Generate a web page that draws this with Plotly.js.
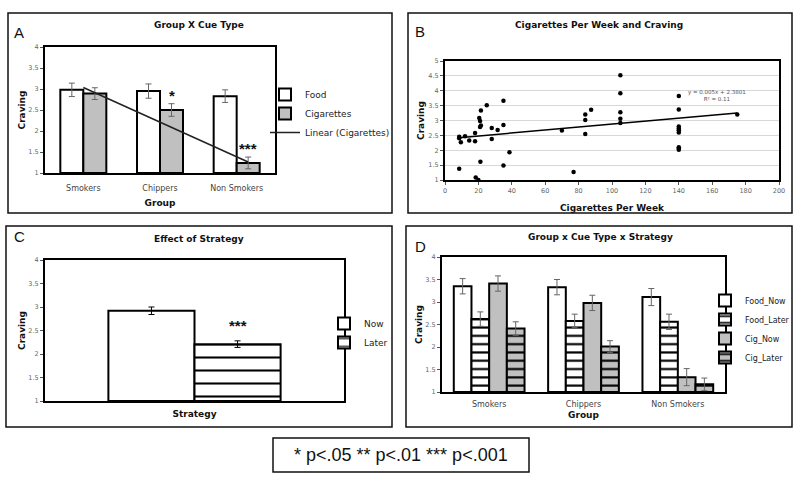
<!DOCTYPE html>
<html>
<head>
<meta charset="utf-8">
<script src="https://cdn.plot.ly/plotly-3.0.1.min.js"></script>
<style>html,body{margin:0;padding:0;background:#fff;}#chart{width:800px;height:481px;}</style>
</head>
<body>
<div id="chart"></div>
<script>
// ---------- DATA ----------
const groups = ['Smokers', 'Chippers', 'Non Smokers'];

// Panel A: Group X Cue Type
const aFood = [2.98, 2.95, 2.83];
const aFoodErr = [0.16, 0.17, 0.15];
const aCig = [2.89, 2.50, 1.24];
const aCigErr = [0.14, 0.15, 0.14];
const aSig = ['', '*', '***'];

// Panel B: Cigarettes Per Week and Craving
const bCigsPerWeek = [8.5, 8.5, 9.5, 12, 8.5, 14.5, 18, 18, 18.4, 20.5, 21, 21.5, 21, 21.5, 25, 21.2, 20,
  28, 28, 31.5, 35, 35, 35, 38.6, 70, 77, 84, 84, 84, 87.5,
  105, 105, 105, 105, 105, 140, 140, 140, 140, 140, 140, 140, 140, 140, 175];
const bCraving = [2.45, 2.40, 2.27, 2.47, 1.38, 2.33, 2.58, 2.30, 1.08, 3.08, 2.78, 2.83, 2.98, 3.34, 3.51, 1.61, 1.0,
  2.75, 2.38, 2.68, 3.66, 2.85, 1.49, 1.93, 2.66, 1.27, 3.20, 3.02, 2.55, 3.36,
  4.52, 3.92, 3.28, 3.06, 2.92, 3.82, 3.37, 2.80, 2.73, 2.67, 2.60, 2.10, 2.06, 2.02, 3.20];
const bSlope = 0.005;
const bIntercept = 2.3801;
const bR2 = 0.11;

// Panel C: Effect of Strategy
const cStrategies = ['Now', 'Later'];
const cCraving = [2.92, 2.21];
const cErr = [0.08, 0.07];
const cSig = ['', '***'];

// Panel D: Group x Cue Type x Strategy
const dSeries = ['Food_Now', 'Food_Later', 'Cig_Now', 'Cig_Later'];
const dFoodNow = [3.35, 3.33, 3.11];
const dFoodNowErr = [0.17, 0.17, 0.19];
const dFoodLater = [2.62, 2.58, 2.56];
const dFoodLaterErr = [0.16, 0.15, 0.17];
const dCigNow = [3.41, 2.98, 1.33];
const dCigNowErr = [0.17, 0.17, 0.19];
const dCigLater = [2.41, 2.01, 1.17];
const dCigLaterErr = [0.15, 0.13, 0.14];

// ---------- HELPERS ----------
function linfit(xs, ys) {
  const n = xs.length;
  const mx = xs.reduce((a, b) => a + b, 0) / n;
  const my = ys.reduce((a, b) => a + b, 0) / n;
  let sxy = 0, sxx = 0;
  for (let i = 0; i < n; i++) { sxy += (xs[i] - mx) * (ys[i] - my); sxx += (xs[i] - mx) ** 2; }
  const m = sxy / sxx;
  return { m: m, b: my - m * mx };
}
const W = 800, H = 481;
const px = v => v / W;
const py = v => 1 - v / H;

const GRAY = '#c0c0c0';
const TICKFONT = { family: 'DejaVu Sans', size: 6.5, color: '#666' };
const CATFONT = { family: 'DejaVu Sans', size: 8, color: '#444' };
const BOLD9 = { family: 'DejaVu Sans', size: 9, color: '#111', weight: 'bold' };
const BARLINE = { color: '#000', width: 2 };
const errStyle = (arr, c) => ({ type: 'data', array: arr, visible: true, color: c, thickness: 1, width: 3 });

const catIdx = groups.map((_, i) => i);
const traces = [];

// ---------- Panel A ----------
const aW = 0.3;
traces.push({ type: 'bar', name: 'Food', x: catIdx, y: aFood, width: aW, offset: -aW, base: 1,
  marker: { color: '#fff', line: BARLINE }, error_y: errStyle(aFoodErr, '#666'),
  xaxis: 'x', yaxis: 'y', legend: 'legend' });
traces.push({ type: 'bar', name: 'Cigarettes', x: catIdx, y: aCig, width: aW, offset: 0, base: 1,
  marker: { color: GRAY, line: BARLINE }, error_y: errStyle(aCigErr, '#666'),
  xaxis: 'x', yaxis: 'y', legend: 'legend' });
const fitA = linfit(catIdx, aCig);
const aLineX = [catIdx[0], catIdx[catIdx.length - 1] + 0.15];
traces.push({ type: 'scatter', mode: 'lines', name: 'Linear (Cigarettes)', x: aLineX,
  y: aLineX.map(x => fitA.m * x + fitA.b), line: { color: '#222', width: 1.5 },
  xaxis: 'x', yaxis: 'y', legend: 'legend' });

// ---------- Panel B ----------
traces.push({ type: 'scatter', mode: 'markers', x: bCigsPerWeek, y: bCraving,
  marker: { color: '#000', size: 4.5 }, showlegend: false, xaxis: 'x2', yaxis: 'y2' });
const bxMin = Math.min(...bCigsPerWeek), bxMax = Math.max(...bCigsPerWeek);
traces.push({ type: 'scatter', mode: 'lines', x: [bxMin, bxMax],
  y: [bxMin, bxMax].map(x => bSlope * x + bIntercept), line: { color: '#000', width: 1.5 },
  showlegend: false, xaxis: 'x2', yaxis: 'y2' });

// ---------- Panel C ----------
const cW = 0.288;
traces.push({ type: 'bar', name: cStrategies[0], x: [0], y: [cCraving[0]], width: cW, offset: -cW, base: 1,
  marker: { color: '#fff', line: BARLINE }, error_y: errStyle([cErr[0]], '#000'),
  xaxis: 'x3', yaxis: 'y3', legend: 'legend3' });
traces.push({ type: 'bar', name: cStrategies[1], x: [0], y: [cCraving[1]], width: cW, offset: 0, base: 1,
  marker: { color: '#fff', line: BARLINE, pattern: { shape: '-', size: 13, solidity: 0.16, fgcolor: '#000', bgcolor: '#fff' } },
  error_y: errStyle([cErr[1]], '#000'), xaxis: 'x3', yaxis: 'y3', legend: 'legend3' });

// ---------- Panel D ----------
const dW = 0.1875;
const dVals = [dFoodNow, dFoodLater, dCigNow, dCigLater];
const dErrs = [dFoodNowErr, dFoodLaterErr, dCigNowErr, dCigLaterErr];
const dFill = ['#fff', '#fff', GRAY, GRAY];
const dStriped = [false, true, false, true];
dSeries.forEach((name, k) => {
  const mk = { color: dFill[k], line: BARLINE };
  if (dStriped[k]) mk.pattern = { shape: '-', size: 8.3, solidity: 0.26, fgcolor: '#000', bgcolor: dFill[k] };
  traces.push({ type: 'bar', name: name, x: catIdx, y: dVals[k], width: dW, offset: -2 * dW + k * dW, base: 1,
    marker: mk, error_y: errStyle(dErrs[k], '#666'), xaxis: 'x4', yaxis: 'y4', legend: 'legend4' });
});

// bars start at base 1 (axis floor), so heights are value - 1
traces.forEach(t => { if (t.type === 'bar') t.y = t.y.map(v => v - 1); });

// ---------- LAYOUT ----------
function yAx(domTop, domBot, anchor, rng, standoff, extra) {
  return Object.assign({ domain: [py(domBot), py(domTop)], anchor: anchor, range: rng, dtick: 0.5,
    showline: true, mirror: true, linecolor: '#000', linewidth: 2, ticks: 'outside', ticklen: 3,
    tickcolor: '#555', tickwidth: 1, tickfont: TICKFONT, zeroline: false, showgrid: false, fixedrange: true,
    title: { text: 'Craving', font: BOLD9, standoff: standoff } }, extra || {});
}
function xAx(l, r, anchor, extra) {
  return Object.assign({ domain: [px(l), px(r)], anchor: anchor, showline: true, mirror: true,
    linecolor: '#000', linewidth: 2, zeroline: false, showgrid: false, fixedrange: true }, extra || {});
}

const annotations = [];
function ann(text, x, y, font, extra) {
  annotations.push(Object.assign({ text: text, x: px(x), y: py(y), xref: 'paper', yref: 'paper',
    showarrow: false, xanchor: 'center', yanchor: 'middle', font: font }, extra || {}));
}
// titles
ann('Group X Cue Type', 199, 25, BOLD9);
ann('Cigarettes Per Week and Craving', 599, 25, BOLD9);
ann('Effect of Strategy', 199, 239, BOLD9);
ann('Group x Cue Type x Strategy', 600, 237, BOLD9);
// panel letters
const LETTER = { family: 'Liberation Sans', size: 15, color: '#111' };
ann('A', 19, 32, LETTER); ann('B', 420, 31, LETTER); ann('C', 19, 236, LETTER); ann('D', 420, 246, LETTER);
// significance stars
const STAR = { family: 'Liberation Sans', size: 15, color: '#111', weight: 'bold' };
aSig.forEach((s, i) => { if (s) annotations.push({ text: s, x: catIdx[i] + aW / 2, y: aCig[i] + aCigErr[i] + 0.02,
  xref: 'x', yref: 'y', showarrow: false, yanchor: 'bottom', yshift: -3, font: STAR }); });
cSig.forEach((s, i) => { if (s) annotations.push({ text: s, x: (i === 0 ? -cW / 2 : cW / 2), y: cCraving[i] + cErr[i] + 0.1,
  xref: 'x3', yref: 'y3', showarrow: false, yanchor: 'bottom', font: STAR }); });
// regression equation
annotations.push({ text: 'y = ' + bSlope + 'x + ' + bIntercept + '<br>R² = ' + bR2, x: 163, y: 3.85,
  xref: 'x2', yref: 'y2', showarrow: false, xanchor: 'center', yanchor: 'middle',
  font: { family: 'DejaVu Sans', size: 5.5, color: '#555' } });
// footnote
ann('* p<.05 ** p<.01 *** p<.001', 401, 455, { family: 'Liberation Sans', size: 18, color: '#111' });

const shapes = [];
function box(x0, y0, x1, y1, w) {
  shapes.push({ type: 'rect', xref: 'paper', yref: 'paper', x0: px(x0), x1: px(x1), y0: py(y1), y1: py(y0),
    line: { color: '#111', width: w }, fillcolor: 'rgba(0,0,0,0)' });
}
box(8, 13, 392, 213, 1.5);
box(408, 13, 792, 213, 1.5);
box(6, 226, 392, 427, 1.5);
box(406, 226, 792, 427, 1.5);
box(273, 438, 529, 472, 1.5);

const LEGFONT = { family: 'DejaVu Sans', size: 9, color: '#222' };
const layout = {
  width: W, height: H, margin: { l: 0, r: 0, t: 0, b: 0 },
  paper_bgcolor: '#fff', plot_bgcolor: '#fff', barmode: 'overlay', hovermode: false,
  font: { family: 'DejaVu Sans', color: '#222' },
  xaxis: xAx(45, 275, 'y', { range: [-0.5, 2.5], tickvals: catIdx, ticktext: groups, tickfont: CATFONT, ticks: '',
    ticklabelstandoff: 6, title: { text: 'Group', font: BOLD9, standoff: 8 } }),
  yaxis: yAx(47, 173, 'x', [1, 4], 1),
  xaxis2: xAx(445, 779, 'y2', { range: [0, 200], dtick: 20, ticks: 'outside', ticklen: 3, tickcolor: '#555',
    tickfont: TICKFONT, title: { text: 'Cigarettes Per Week', font: BOLD9, standoff: 11 } }),
  yaxis2: yAx(61, 180, 'x2', [1, 5], 2, { showgrid: true, gridcolor: '#d8d8d8', gridwidth: 1 }),
  xaxis3: xAx(45, 344, 'y3', { range: [-0.5, 0.5], showticklabels: false, ticks: '',
    title: { text: 'Strategy', font: BOLD9, standoff: 9 } }),
  yaxis3: yAx(260, 401, 'x3', [1, 4], 1),
  xaxis4: xAx(442, 725, 'y4', { range: [-0.5, 2.5], tickvals: catIdx, ticktext: groups, tickfont: CATFONT, ticks: '',
    ticklabelstandoff: 3, title: { text: 'Group', font: BOLD9, standoff: 4 } }),
  yaxis4: yAx(257, 392, 'x4', [1, 4], 1),
  legend: { x: px(265), y: py(80), xanchor: 'left', yanchor: 'top', font: LEGFONT, bgcolor: 'rgba(0,0,0,0)', itemwidth: 30 },
  legend3: { x: px(324), y: py(333), xanchor: 'left', yanchor: 'middle', font: LEGFONT, bgcolor: 'rgba(0,0,0,0)', itemwidth: 30 },
  legend4: { x: px(705), y: py(329), xanchor: 'left', yanchor: 'middle', font: { family: 'DejaVu Sans', size: 8, color: '#222' }, bgcolor: 'rgba(0,0,0,0)', itemwidth: 30 },
  annotations: annotations,
  shapes: shapes,
  showlegend: true
};

Plotly.newPlot('chart', traces, layout, { staticPlot: true, displayModeBar: false });
</script>
</body>
</html>
